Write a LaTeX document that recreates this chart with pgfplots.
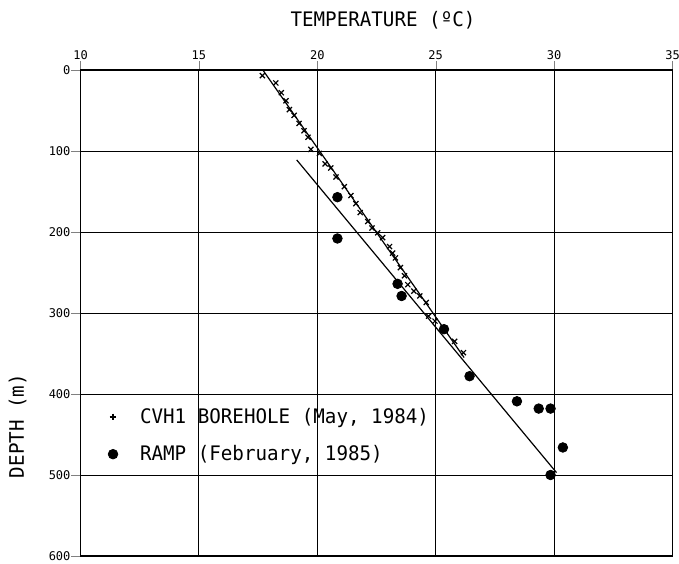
\documentclass[border=0pt]{standalone}
\usepackage{pgfplots}
\pgfplotsset{compat=1.18}
\usepackage{fontspec}
\newfontfamily\labfont{DejaVu Sans Mono}[FakeStretch=0.96]
\newfontfamily\tickfont{DejaVu Sans Mono}
\begin{document}
\begin{tikzpicture}
\begin{axis}[
  name=ax,
  at={(0,0)}, anchor=south west,
  scale only axis,
  width=296pt, height=243pt,
  xmin=10, xmax=35, ymin=0, ymax=600,
  y dir=reverse,
  xtick={10,15,20,25,30,35},
  ytick={0,100,200,300,400,500,600},
  xticklabel pos=right,
  xtick pos=right,
  ytick pos=left,
  tick align=outside,
  major tick length=4.5pt,
  grid=major,
  major grid style={black, line width=0.5pt},
  axis line style={black, line width=0.9pt},
  /pgf/number format/assume math mode=true,
  tick label style={font=\tickfont\fontsize{6}{7}\selectfont},
  yticklabel style={xshift=3pt},
  xticklabel style={yshift=-3pt},
  legend style={draw=none, fill=none, at={(0.034,0.322)}, anchor=north west,
    font=\labfont\fontsize{10}{11}\selectfont, row sep=5.5pt, cells={anchor=west}},
  legend cell align=left,
  legend image code/.code={\path[draw=none] (-3pt,0pt) -- (11.5pt,0pt); \draw[#1] plot coordinates {(0pt,0pt)};},
]
\addlegendimage{only marks, mark=+, mark size=1.7pt, black, line width=0.6pt}
\addlegendentry{CVH1 BOREHOLE (May, 1984)}
\addlegendimage{only marks, mark=*, mark size=2.4pt, black}
\addlegendentry{RAMP (February, 1985)}

\addplot[forget plot, only marks, mark=x, mark size=1.8pt, black, line width=0.6pt] coordinates {
(17.68,7) (18.25,16) (18.48,28) (18.68,38) (18.82,49) (19.02,56) (19.23,66)
(19.44,75) (19.61,83) (19.73,98) (20.09,103) (20.33,116) (20.57,121) (20.79,132)
(21.14,144) (21.42,155) (21.63,165) (21.81,176) (22.13,187) (22.31,195) (22.55,201)
(22.76,207) (23.05,218) (23.18,226) (23.30,232) (23.51,244) (23.68,254) (23.82,265)
(24.08,273) (24.33,279) (24.60,287) (24.70,304) (24.97,310) (25.40,320) (25.80,335)
(26.17,349)
};
\addplot[forget plot, only marks, mark=*, mark size=2.4pt, black] coordinates {
(20.85,157) (20.85,208) (23.39,264) (23.56,279) (25.35,320) (26.43,378)
(28.43,409) (29.35,418) (29.85,418) (30.37,466) (29.85,500)
};
\addplot[forget plot, black, line width=0.6pt] coordinates {(17.7,0) (26.2,355)};
\addplot[forget plot, black, line width=0.6pt] coordinates {(19.13,111) (30.1,497)};
\end{axis}
\node[font=\labfont\fontsize{10}{11}\selectfont, anchor=center] at ([xshift=3.25pt,yshift=25pt]ax.north) {TEMPERATURE (ºC)};
\node[font=\labfont\fontsize{10}{11}\selectfont, anchor=center, rotate=90] at ([xshift=-31.5pt,yshift=-56.5pt]ax.west) {DEPTH (m)};
\pgfresetboundingbox
\path[use as bounding box] ([xshift=-40.25pt,yshift=-3.5pt]ax.south west) rectangle ([xshift=3.25pt,yshift=35pt]ax.north east);
\end{tikzpicture}
\end{document}
